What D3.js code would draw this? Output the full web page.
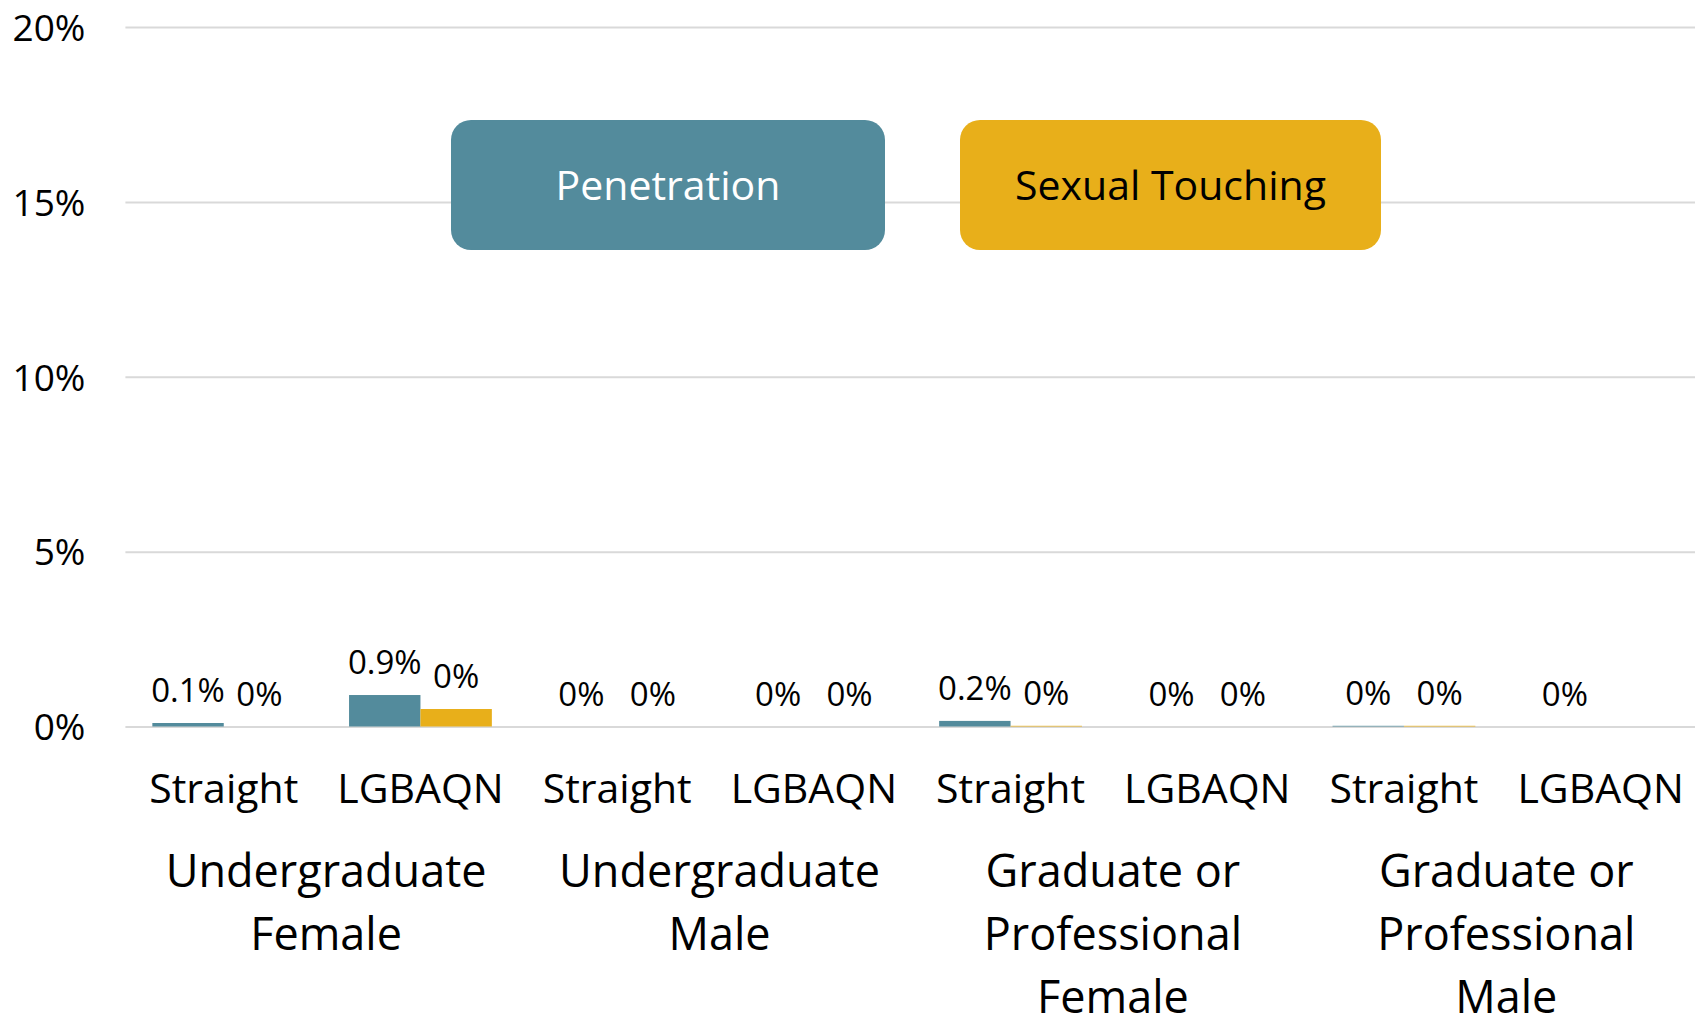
<!DOCTYPE html>
<html>
<head>
<meta charset="utf-8">
<script src="https://cdn.jsdelivr.net/npm/d3@7"></script>
<style>
  html, body { margin: 0; padding: 0; background: #fff; overflow: hidden; }
  svg { display: block; font-family: "Open Sans", "Noto Sans", sans-serif; }
</style>
</head>
<body>
<div id="chart"></div>
<script>
// data
const groups = [
  ["Undergraduate", "Female"],
  ["Undergraduate", "Male"],
  ["Graduate or", "Professional", "Female"],
  ["Graduate or", "Professional", "Male"]
];
const orientations = ["Straight", "LGBAQN"];
const series = ["Penetration", "Sexual Touching"];
const penetration = [0.1, 0.9, 0, 0, 0.16, 0, 0.02, 0];
const sexualTouching = [0, 0.5, 0, 0, 0.02, 0, 0.02, 0];
const penetrationLabels = ["0.1%", "0.9%", "0%", "0%", "0.2%", "0%", "0%", "0%"];
const touchingLabels = ["0%", "0%", "0%", "0%", "0%", "0%", "0%", null];
const yTicks = [0, 5, 10, 15, 20];

const colors = {"Penetration": "#538B9C", "Sexual Touching": "#E8AF1A"};

const width = 1695, height = 1018;
const plot = {left: 125.4, right: 1699, top: 27, bottom: 726.5};

const svg = d3.select("#chart").append("svg")
  .attr("width", width)
  .attr("height", height);

// one band per group x orientation
const cats = d3.range(groups.length * orientations.length);
const x0 = d3.scaleBand().domain(cats).range([plot.left, plot.right])
  .paddingInner(0.274).paddingOuter(0.137);
const x1 = d3.scaleBand().domain(series).range([0, x0.bandwidth()]);
const y = d3.scaleLinear().domain([0, 20]).range([plot.bottom, plot.top]);

// y axis + gridlines
const yAxis = svg.append("g")
  .attr("transform", `translate(${plot.left},0)`)
  .call(d3.axisLeft(y).tickValues(yTicks).tickSize(-(width - plot.left)).tickPadding(40)
    .tickFormat(d => d + "%"));
yAxis.select(".domain").remove();
yAxis.selectAll(".tick line").attr("stroke", "#D9D9D9").attr("stroke-width", 2);
yAxis.selectAll(".tick text")
  .attr("font-size", 37).attr("fill", "#000").attr("dy", "0.36em")
  .style("font-family", "Open Sans");

// bars
const rows = cats.map(i => ({
  i,
  vals: [
    {s: "Penetration", v: penetration[i], label: penetrationLabels[i]},
    {s: "Sexual Touching", v: sexualTouching[i], label: touchingLabels[i]}
  ]
}));

const cat = svg.append("g").selectAll("g").data(rows).join("g")
  .attr("transform", d => `translate(${x0(d.i)},0)`);

cat.selectAll("rect").data(d => d.vals).join("rect")
  .attr("x", d => x1(d.s))
  .attr("width", x1.bandwidth())
  .attr("y", d => y(d.v))
  .attr("height", d => y(0) - y(d.v))
  .attr("fill", d => colors[d.s]);

cat.selectAll("text").data(d => d.vals.filter(v => v.label !== null)).join("text")
  .attr("x", d => x1(d.s) + x1.bandwidth() / 2)
  .attr("y", d => y(d.v) - 21)
  .attr("text-anchor", "middle")
  .attr("font-size", 33)
  .attr("fill", "#000")
  .text(d => d.label);

// orientation labels along the bottom
const xAxis = svg.append("g")
  .attr("transform", `translate(0,${plot.bottom})`)
  .call(d3.axisBottom(x0).tickSize(0).tickPadding(47)
    .tickFormat(i => orientations[i % orientations.length]));
xAxis.select(".domain").remove();
xAxis.selectAll(".tick text")
  .attr("font-size", 41).attr("fill", "#000")
  .style("font-family", "Open Sans");

// group labels
const groupText = svg.append("g").selectAll("text").data(groups).join("text")
  .attr("x", (d, g) => {
    const a = x0(g * 2), b = x0(g * 2 + 1) + x0.bandwidth();
    return (a + b) / 2 + 4;
  })
  .attr("y", 887)
  .attr("text-anchor", "middle")
  .attr("font-size", 45)
  .attr("fill", "#000");
groupText.selectAll("tspan").data(d => d).join("tspan")
  .attr("x", function() { return this.parentNode.getAttribute("x"); })
  .attr("dy", (d, k) => k === 0 ? 0 : 63)
  .text(d => d);

// legend boxes
const legend = [
  {s: "Penetration", x: 451, w: 434, text: "#fff"},
  {s: "Sexual Touching", x: 960, w: 421, text: "#000"}
];
const lg = svg.append("g").selectAll("g").data(legend).join("g");
lg.append("rect")
  .attr("x", d => d.x).attr("y", 120)
  .attr("width", d => d.w).attr("height", 130)
  .attr("rx", 20).attr("ry", 20)
  .attr("fill", d => colors[d.s]);
lg.append("text")
  .attr("x", d => d.x + d.w / 2).attr("y", 200)
  .attr("text-anchor", "middle")
  .attr("font-size", 41)
  .attr("fill", d => d.text)
  .text(d => d.s);
</script>
</body>
</html>
